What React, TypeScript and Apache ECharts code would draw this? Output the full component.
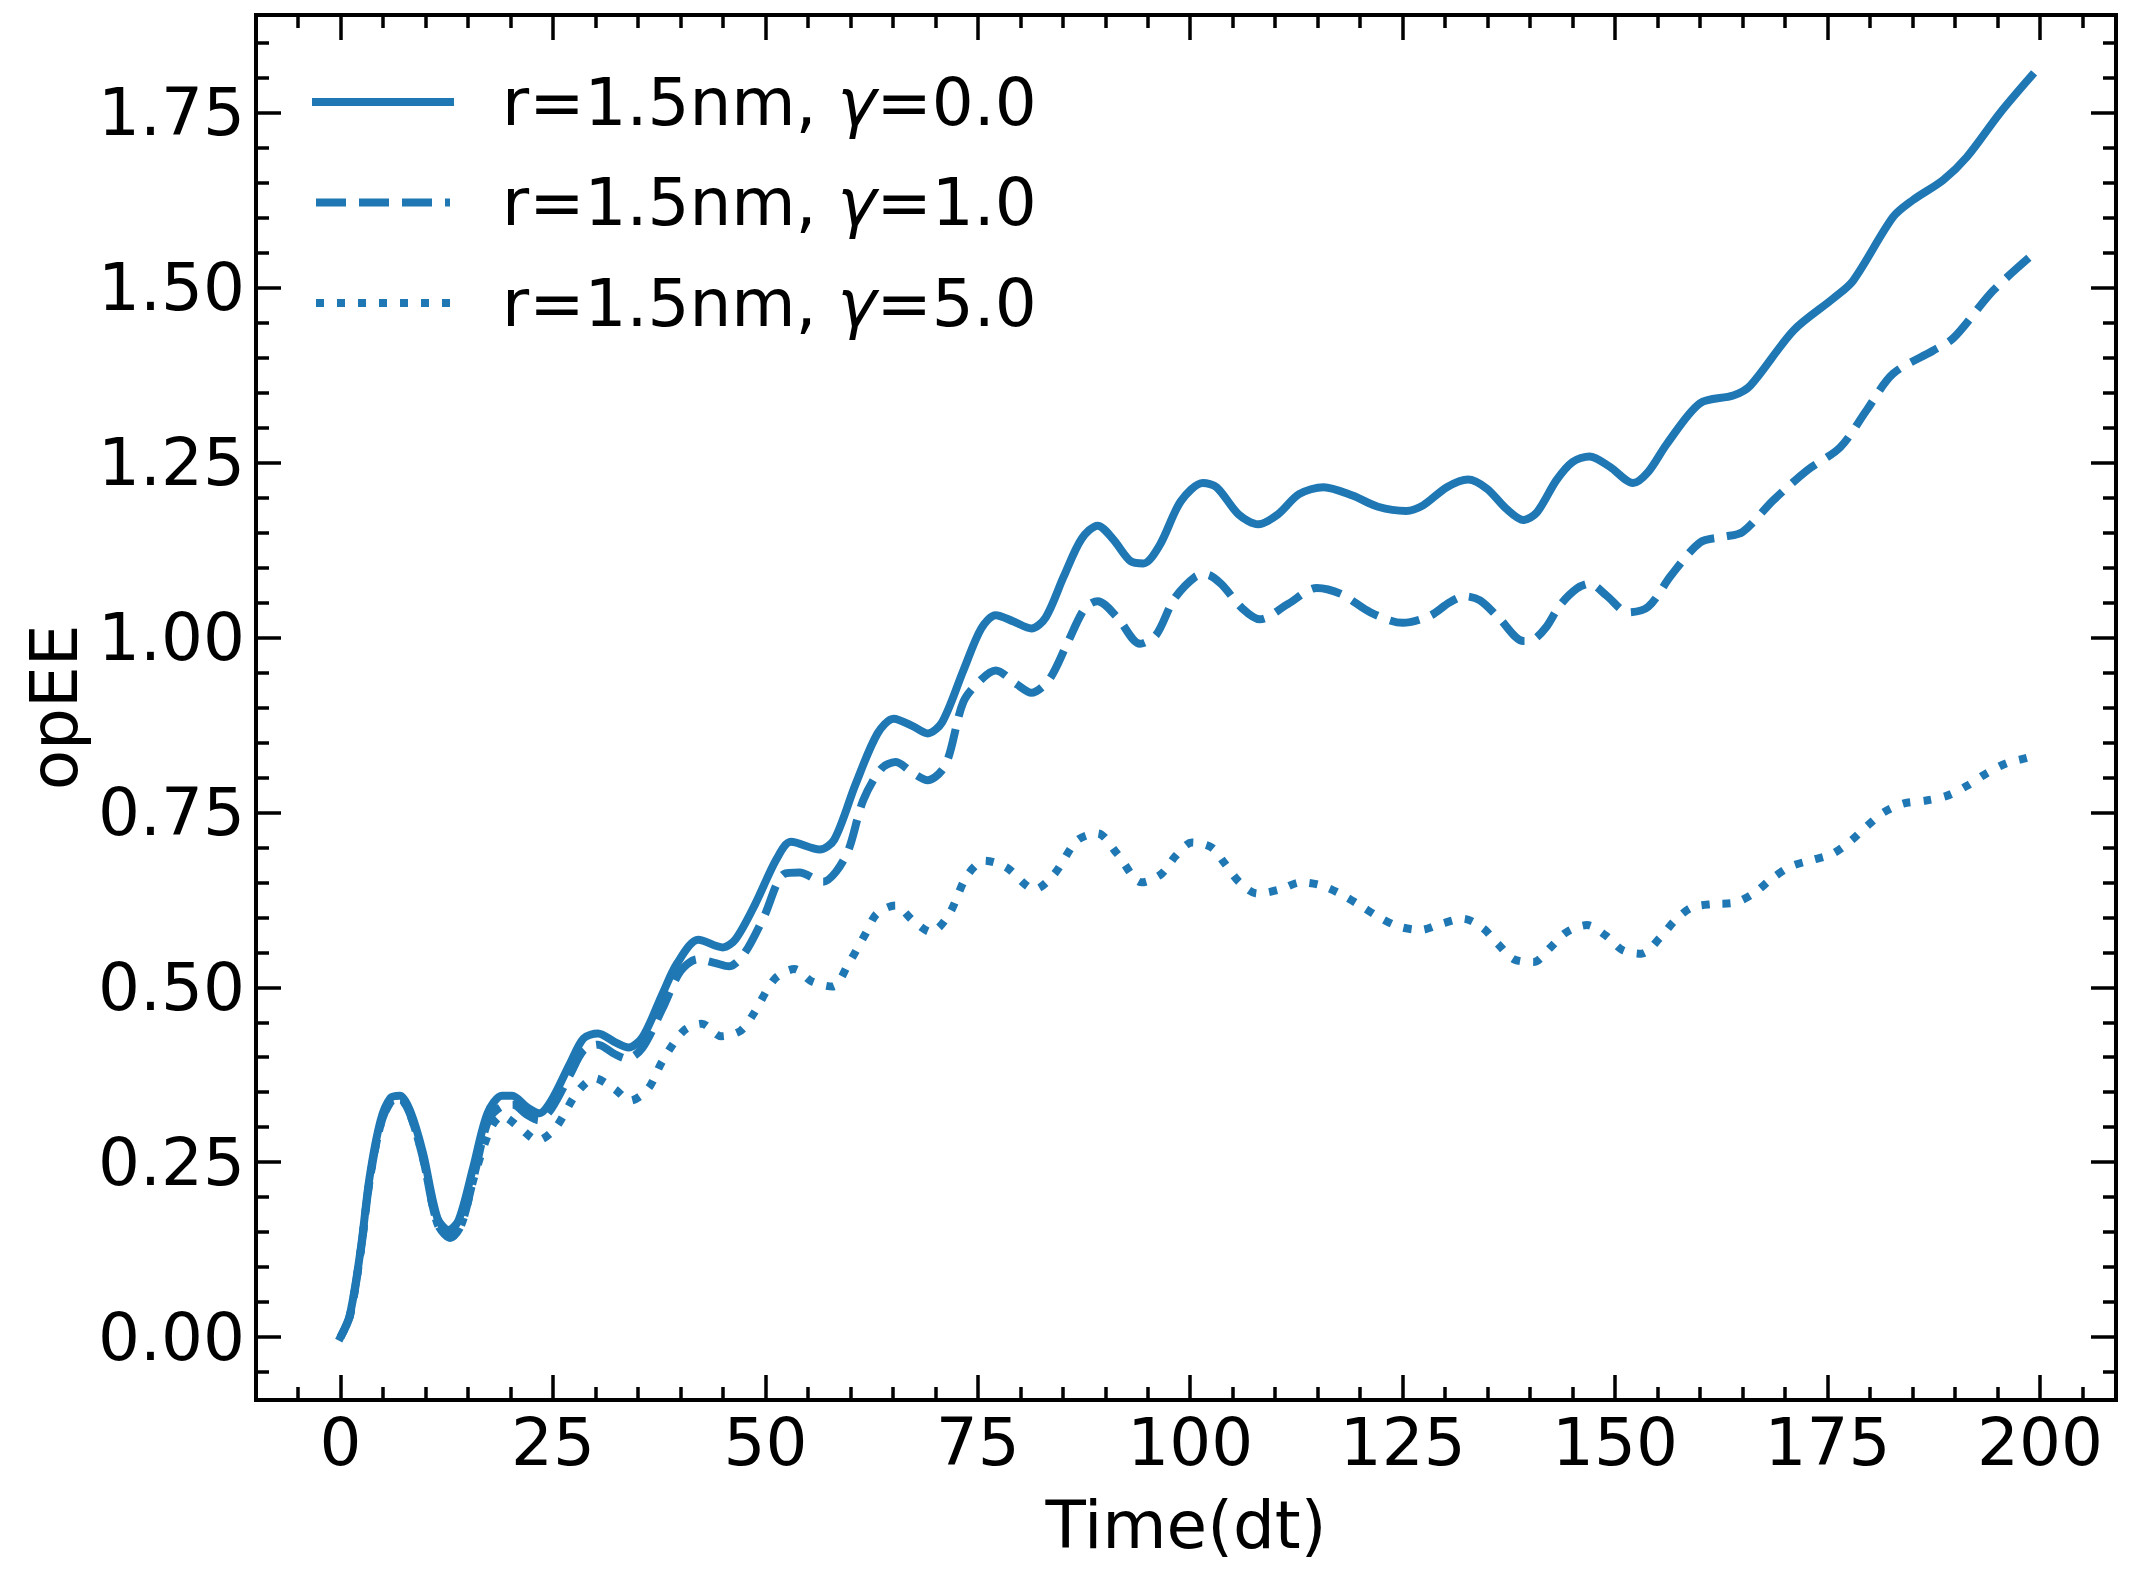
import React, { useEffect, useRef } from 'react';
import * as echarts from 'echarts';

const X_MAJOR = [0, 25, 50, 75, 100, 125, 150, 175, 200];
const X_MINOR = [-5, 5, 10, 15, 20, 30, 35, 40, 45, 55, 60, 65, 70, 80, 85, 90, 95, 105, 110, 115, 120, 130, 135, 140, 145, 155, 160, 165, 170, 180, 185, 190, 195, 205];
const Y_MAJOR = [0, 0.25, 0.5, 0.75, 1.0, 1.25, 1.5, 1.75];
const Y_MINOR = [-0.05, 0.05, 0.1, 0.15, 0.2, 0.3, 0.35, 0.4, 0.45, 0.55, 0.6, 0.65, 0.7, 0.8, 0.85, 0.9, 0.95, 1.05, 1.1, 1.15, 1.2, 1.3, 1.35, 1.4, 1.45, 1.55, 1.6, 1.65, 1.7, 1.8, 1.85];

const SERIES_NAMES = ['r=1.5nm, γ=0.0', 'r=1.5nm, γ=1.0', 'r=1.5nm, γ=5.0'];

const GAMMA0 = [
  [0, 0], [1.1, 0.032], [2.4, 0.128], [3.4, 0.227], [4.7, 0.309], [5.9, 0.342], [7, 0.345], [8.2, 0.323], [9.7, 0.263], [11.4, 0.17], [12.7, 0.153], [13.9, 0.167], [15.6, 0.242], [17.3, 0.32], [19, 0.345], [20.2, 0.345], [21.9, 0.329], [23.4, 0.32], [24.8, 0.338], [27, 0.391], [28.6, 0.427], [30.3, 0.434], [32.4, 0.421], [33.9, 0.414], [35.6, 0.43], [37.9, 0.491], [39.6, 0.534], [42.1, 0.568], [45, 0.557], [46.5, 0.569], [48.8, 0.619], [51.3, 0.683], [53, 0.708], [56.4, 0.697], [58.1, 0.711], [60.6, 0.79], [63.2, 0.863], [65.1, 0.884], [67.4, 0.873], [69.1, 0.863], [70.8, 0.879], [73.3, 0.953], [75.4, 1.013], [77.1, 1.032], [79.2, 1.023], [81.3, 1.013], [83, 1.029], [85.1, 1.087], [87.2, 1.141], [89.1, 1.16], [90.9, 1.141], [93, 1.109], [94.5, 1.106], [96.4, 1.132], [98.9, 1.195], [101.5, 1.221], [103.1, 1.215], [105.7, 1.176], [108, 1.162], [110.3, 1.176], [112.8, 1.205], [115.7, 1.215], [119.1, 1.203], [122.1, 1.187], [125.4, 1.181], [127.4, 1.189], [130.2, 1.215], [132.7, 1.226], [134.9, 1.213], [137.2, 1.184], [139.2, 1.168], [140.8, 1.179], [143.1, 1.225], [145, 1.251], [147, 1.259], [149.4, 1.244], [152.1, 1.221], [153.9, 1.237], [156.1, 1.277], [160, 1.335], [163.9, 1.346], [165.9, 1.36], [171, 1.439], [175.7, 1.485], [178, 1.51], [182.7, 1.601], [185, 1.625], [188.6, 1.654], [191.4, 1.687], [195.3, 1.75], [199, 1.803],
];

const GAMMA1 = [
  [0, 0], [1.1, 0.03], [2.4, 0.125], [3.4, 0.222], [4.7, 0.303], [5.9, 0.336], [7, 0.34], [8.2, 0.318], [9.7, 0.256], [11.4, 0.162], [12.9, 0.142], [14.2, 0.16], [15.8, 0.235], [17.4, 0.31], [19, 0.33], [20.3, 0.332], [21.9, 0.318], [23.3, 0.31], [24.8, 0.326], [27, 0.375], [28.6, 0.41], [30.3, 0.418], [32.2, 0.405], [33.7, 0.398], [35.5, 0.413], [37.9, 0.47], [40, 0.523], [42, 0.54], [44, 0.535], [45.7, 0.53], [47.5, 0.548], [49.8, 0.6], [52.2, 0.662], [54, 0.664], [56.8, 0.651], [58.3, 0.665], [59.8, 0.697], [61.5, 0.767], [63.6, 0.812], [65.3, 0.822], [67.4, 0.806], [69.1, 0.796], [71.2, 0.818], [73.3, 0.908], [75.4, 0.94], [77.1, 0.953], [79.6, 0.933], [81.3, 0.921], [83.4, 0.94], [85.5, 0.991], [87.6, 1.042], [89.1, 1.052], [91.4, 1.029], [94.1, 0.991], [96, 1.004], [98.1, 1.055], [100.6, 1.087], [101.9, 1.09], [103.6, 1.077], [106.1, 1.042], [108.2, 1.026], [111.5, 1.048], [114.9, 1.071], [117.8, 1.062], [121.2, 1.036], [125, 1.021], [128.2, 1.031], [130.5, 1.05], [132.3, 1.059], [134.1, 1.053], [136.4, 1.027], [139.2, 0.995], [140.4, 0.997], [141.9, 1.015], [143.5, 1.046], [145.5, 1.07], [147, 1.077], [149, 1.06], [151.5, 1.036], [153.9, 1.044], [156.6, 1.089], [160, 1.136], [162.7, 1.144], [165, 1.151], [168.6, 1.196], [172.6, 1.239], [176.5, 1.272], [179.6, 1.325], [182.7, 1.377], [187.4, 1.41], [189.8, 1.428], [194.5, 1.496], [199, 1.546],
];

const GAMMA5 = [
  [0, 0], [1.1, 0.03], [2.4, 0.125], [3.4, 0.222], [4.7, 0.303], [5.9, 0.336], [7, 0.34], [8.2, 0.318], [9.7, 0.256], [11.4, 0.162], [12.9, 0.142], [14.2, 0.16], [15.8, 0.232], [17.7, 0.299], [19, 0.316], [21.1, 0.299], [23.2, 0.281], [25.3, 0.299], [27.8, 0.349], [29.9, 0.37], [32.2, 0.355], [34.1, 0.338], [36.2, 0.355], [37.9, 0.395], [40.4, 0.438], [42.5, 0.448], [44.8, 0.43], [47.1, 0.438], [48.6, 0.462], [51.1, 0.512], [53.4, 0.526], [55.5, 0.508], [57.9, 0.501], [59.8, 0.534], [61.8, 0.577], [63.1, 0.605], [65.3, 0.617], [67.4, 0.595], [69.5, 0.579], [71.6, 0.604], [73.7, 0.659], [75.8, 0.681], [78.3, 0.672], [81.7, 0.64], [84, 0.662], [86.7, 0.71], [89.1, 0.72], [91.4, 0.691], [94.3, 0.65], [96.6, 0.662], [98.3, 0.688], [100.2, 0.707], [102.5, 0.7], [104, 0.678], [105.8, 0.65], [107.9, 0.634], [110.6, 0.64], [113, 0.65], [115.3, 0.646], [117.6, 0.634], [120, 0.617], [122.1, 0.601], [124.5, 0.587], [127.1, 0.582], [129.6, 0.591], [132.1, 0.598], [134.4, 0.585], [136.2, 0.562], [138.1, 0.54], [140.4, 0.536], [142.4, 0.557], [144.3, 0.579], [146.7, 0.589], [148.9, 0.574], [150.9, 0.553], [153.1, 0.548], [155.3, 0.571], [157, 0.595], [159, 0.614], [161.5, 0.619], [164.1, 0.621], [166.4, 0.635], [168.4, 0.655], [170.7, 0.673], [173.2, 0.682], [175.6, 0.691], [177.8, 0.71], [179.6, 0.73], [181.6, 0.75], [184, 0.763], [186.6, 0.767], [189.1, 0.774], [191.4, 0.788], [193.6, 0.805], [196, 0.82], [198.5, 0.828], [199, 0.83],
];

const FONT = 'DejaVu Sans';
const BLUE = '#1f77b4';
const X_MIN = -9.95;
const X_MAX = 208.95;
const Y_MIN = -0.09;
const Y_MAX = 1.89;

function axisDef(opts: any) {
  const { position, min, max, ticks, length, line, labels, extra } = opts;
  return {
    type: 'value',
    position,
    min,
    max,
    axisLine: { show: line, onZero: false, lineStyle: { color: '#000', width: 4, cap: 'square' } },
    axisTick: { show: true, inside: true, length, customValues: ticks, lineStyle: { color: '#000', width: 3.5 } },
    minorTick: { show: false },
    splitLine: { show: false },
    axisLabel: labels
      ? { show: true, customValues: ticks, ...labels }
      : { show: false },
    ...(extra || {}),
  };
}

export default function App() {
  const ref = useRef<HTMLDivElement>(null);
  useEffect(() => {
    if (!ref.current) return;
    const chart = echarts.init(ref.current, null, { renderer: 'svg' });
    const labelStyle = { fontSize: 66, color: '#000', fontFamily: FONT };
    const option: any = {
      animation: false,
      backgroundColor: '#fff',
      grid: { left: 256, top: 15, width: 1860, height: 1385, containLabel: false, outerBoundsMode: 'none' },
      legend: {
        show: true,
        orient: 'vertical',
        left: 312,
        top: 64,
        padding: 0,
        itemWidth: 134,
        itemHeight: 2,
        itemGap: 24.5,
        data: SERIES_NAMES,
        lineStyle: { width: 8 },
        itemStyle: { opacity: 0 },
        formatter: (name: string) => name.replace('γ', '{g|γ}'),
        textStyle: {
          fontSize: 66,
          color: '#000',
          fontFamily: FONT,
          lineHeight: 76,
          padding: [0, 0, 0, 47],
          rich: {
            g: { fontSize: 66, fontStyle: 'italic', color: '#000', fontFamily: FONT, lineHeight: 76 },
          },
        },
      },
      xAxis: [
        axisDef({
          position: 'bottom', min: X_MIN, max: X_MAX, ticks: X_MAJOR, length: 25, line: true,
          labels: { ...labelStyle, margin: 9, formatter: (v: number) => String(v) },
          extra: { name: 'Time(dt)', nameLocation: 'middle', nameGap: 92, nameTextStyle: { ...labelStyle } },
        }),
        axisDef({ position: 'bottom', min: X_MIN, max: X_MAX, ticks: X_MINOR, length: 13, line: false }),
        axisDef({ position: 'top', min: X_MIN, max: X_MAX, ticks: X_MAJOR, length: 25, line: true }),
        axisDef({ position: 'top', min: X_MIN, max: X_MAX, ticks: X_MINOR, length: 13, line: false }),
      ],
      yAxis: [
        axisDef({
          position: 'left', min: Y_MIN, max: Y_MAX, ticks: Y_MAJOR, length: 25, line: true,
          labels: { ...labelStyle, margin: 11, formatter: (v: number) => v.toFixed(2) },
          extra: { name: 'opEE', nameLocation: 'middle', nameGap: 160, nameRotate: 90, nameTextStyle: { ...labelStyle } },
        }),
        axisDef({ position: 'left', min: Y_MIN, max: Y_MAX, ticks: Y_MINOR, length: 13, line: false }),
        axisDef({ position: 'right', min: Y_MIN, max: Y_MAX, ticks: Y_MAJOR, length: 25, line: true }),
        axisDef({ position: 'right', min: Y_MIN, max: Y_MAX, ticks: Y_MINOR, length: 13, line: false }),
      ],
      series: [
        { name: SERIES_NAMES[0], data: GAMMA0, type: 'solid', cap: 'square' },
        { name: SERIES_NAMES[1], data: GAMMA1, type: [30, 13], cap: 'butt' },
        { name: SERIES_NAMES[2], data: GAMMA5, type: [8, 13], cap: 'butt' },
      ].map((s) => ({
        type: 'line',
        name: s.name,
        data: s.data,
        xAxisIndex: 0,
        yAxisIndex: 0,
        symbol: 'none',
        showSymbol: false,
        smooth: 0.3,
        color: BLUE,
        itemStyle: { color: BLUE },
        lineStyle: { color: BLUE, width: 8, type: s.type, cap: s.cap },
        emphasis: { disabled: true },
        z: 3,
      })),
    };
    chart.setOption(option);
    return () => chart.dispose();
  }, []);
  return (
    <div
      ref={ref}
      style={{ position: 'fixed', left: 0, top: 0, width: 2131, height: 1575, background: '#fff' }}
    />
  );
}
